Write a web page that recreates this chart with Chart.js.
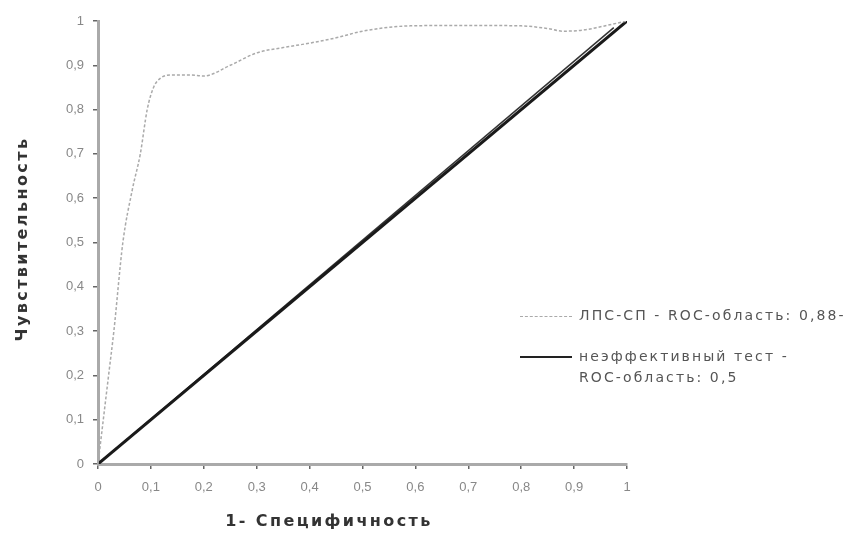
<!DOCTYPE html>
<html>
<head>
<meta charset="utf-8">
<script src="https://cdn.jsdelivr.net/npm/chart.js@4.4.1/dist/chart.umd.min.js"></script>
<style>
  body { margin: 0; background: #fff; }
  #wrap { position: relative; width: 849px; height: 533px; overflow: hidden; }
  .leg { position: absolute; font-family: "DejaVu Sans", sans-serif; font-size: 14px; letter-spacing: 2.1px; color: #555; white-space: nowrap; line-height: 21px; }
  .swatch { position: absolute; width: 52px; }
  .axis-title { position: absolute; font-family: "DejaVu Sans", sans-serif; font-weight: bold; font-size: 16px; letter-spacing: 2.4px; color: #333; white-space: nowrap; width: 300px; height: 20px; line-height: 20px; text-align: center; }
</style>
</head>
<body>
<div id="wrap">
  <canvas id="roc-chart" width="849" height="533"></canvas>
  <div class="swatch" style="left:520px; top:316px; border-top:1px dashed #aaa;"></div>
  <div class="leg" style="left:579px; top:305px;">ЛПС-СП - ROC-область: 0,88-</div>
  <div class="swatch" style="left:520px; top:356px; border-top:2px solid #222;"></div>
  <div class="leg" style="left:579px; top:346px;">неэффективный тест -<br>ROC-область: 0,5</div>
  <div class="axis-title" style="left:179px; top:511px;">1- Специфичность</div>
  <div class="axis-title" style="left:-128px; top:229px; transform: rotate(-90deg);">Чувствительность</div>
</div>
<script>
// ROC curve: ЛПС-СП vs ineffective test

const rocFpr = [0, 0.01, 0.02, 0.03, 0.047, 0.065, 0.08, 0.093, 0.105, 0.117, 0.14, 0.175, 0.2, 0.25, 0.3, 0.35, 0.4, 0.45, 0.5, 0.59, 0.7, 0.8, 0.85, 0.88, 0.92, 0.95, 1];
const rocTpr = [0, 0.1, 0.2, 0.3, 0.5, 0.62, 0.7, 0.8, 0.85, 0.87, 0.878, 0.878, 0.876, 0.9, 0.928, 0.94, 0.95, 0.962, 0.977, 0.989, 0.99, 0.989, 0.983, 0.977, 0.98, 0.987, 1];

const baseX = [0, 1];
const baseY = [0, 1];
// second, slightly shorter black line visible near the top right
const base2X = [0, 0.975];
const base2Y = [0, 0.985];

const xTicks = [0, 0.1, 0.2, 0.3, 0.4, 0.5, 0.6, 0.7, 0.8, 0.9, 1];
const yTicks = [0, 0.1, 0.2, 0.3, 0.4, 0.5, 0.6, 0.7, 0.8, 0.9, 1];

function toPoints(xs, ys) {
  return xs.map((x, i) => ({ x: x, y: ys[i] }));
}

function fmt(v) {
  const r = Math.round(v * 10) / 10;
  if (r === 0 || r === 1) return String(r);
  return r.toFixed(1).replace('.', ',');
}

const font = "'Liberation Sans', Arial, sans-serif";

new Chart(document.getElementById('roc-chart'), {
  type: 'scatter',
  data: {
    datasets: [
      {
        label: 'ЛПС-СП - ROC-область: 0,88-',
        data: toPoints(rocFpr, rocTpr),
        showLine: true,
        borderColor: '#aaa',
        borderWidth: 1.5,
        borderDash: [3, 2],
        pointRadius: 0,
        cubicInterpolationMode: 'monotone'
      },
      {
        label: 'неэффективный тест - ROC-область: 0,5',
        data: toPoints(baseX, baseY),
        showLine: true,
        borderColor: '#1a1a1a',
        borderWidth: 3,
        pointRadius: 0
      },
      {
        label: 'helper',
        data: toPoints(base2X, base2Y),
        showLine: true,
        borderColor: '#333',
        borderWidth: 1.5,
        pointRadius: 0
      }
    ]
  },
  options: {
    responsive: false,
    animation: false,
    layout: { padding: { left: 0, right: 222, top: 21, bottom: 0 } },
    plugins: {
      legend: { display: false },
      tooltip: { enabled: false }
    },
    scales: {
      x: {
        type: 'linear',
        min: 0,
        max: 1,
        afterBuildTicks: scale => { scale.ticks = xTicks.map(v => ({ value: v })); },
        afterFit: scale => { scale.height = 69; },
        border: { display: true, color: '#aaa', width: 3 },
        grid: { drawOnChartArea: false, drawTicks: true, tickLength: 5, color: '#666', lineWidth: 1.5 },
        ticks: {
          color: '#888',
          font: { family: font, size: 13 },
          padding: 11,
          maxRotation: 0,
          callback: v => fmt(v)
        }
      },
      y: {
        type: 'linear',
        min: 0,
        max: 1,
        afterBuildTicks: scale => { scale.ticks = yTicks.map(v => ({ value: v })); },
        afterFit: scale => { scale.width = 98; },
        border: { display: true, color: '#aaa', width: 3 },
        grid: { drawOnChartArea: false, drawTicks: true, tickLength: 5, color: '#666', lineWidth: 1.5 },
        ticks: {
          color: '#888',
          font: { family: font, size: 13 },
          padding: 9,
          callback: v => fmt(v)
        }
      }
    }
  }
});
</script>
</body>
</html>
